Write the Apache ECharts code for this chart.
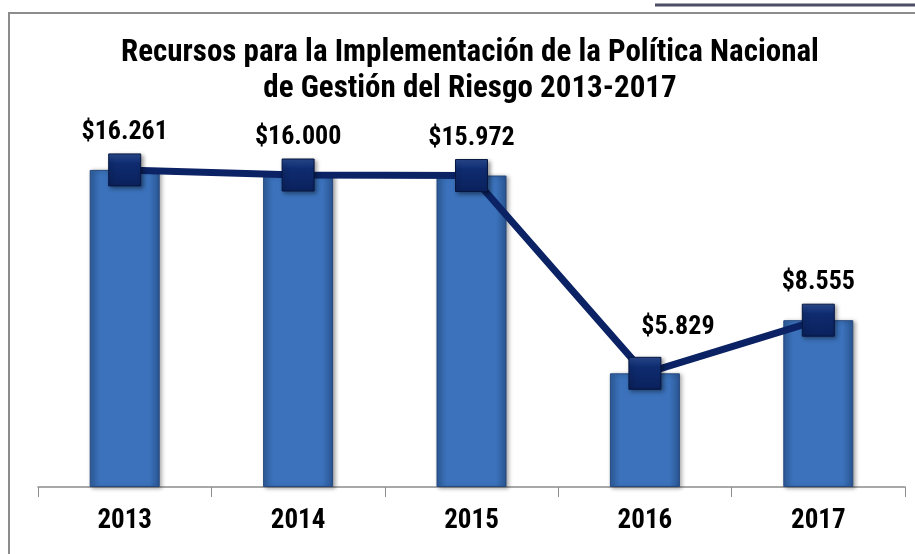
<!DOCTYPE html>
<html>
<head>
<meta charset="utf-8">
<script src="https://cdn.jsdelivr.net/npm/echarts@6/dist/echarts.min.js"></script>
<style>
  html, body { margin: 0; padding: 0; background: #fff; }
  #chart { width: 915px; height: 554px; }
</style>
</head>
<body>
<div id="chart"></div>
<script>
  // datos (miles de millones)
  var years = ['2013', '2014', '2015', '2016', '2017'];
  var recursos = [16261, 16000, 15972, 5829, 8555];
  var titulo = 'Recursos para la Implementación de la Política Nacional\nde Gestión del Riesgo 2013-2017';

  var fuente = '"Liberation Sans Narrow", "Roboto Condensed", Roboto, Arial, sans-serif';

  function formato(v) {
    // separador de miles con punto
    return '$' + String(v).replace(/\B(?=(\d{3})+(?!\d))/g, '.');
  }

  // la etiqueta de 2016 va corrida a la derecha para no tapar la línea
  var puntos = recursos.map(function (v, i) {
    if (i === 3) return { value: v, label: { offset: [33, -8] } };
    return v;
  });

  var chart = echarts.init(document.getElementById('chart'));
  var option = {
    backgroundColor: '#fff',
    animation: false,
    title: {
      text: titulo,
      left: 465,
      top: 30,
      textAlign: 'center',
      textStyle: {
        fontFamily: fuente,
        fontSize: 31,
        fontWeight: 'bold',
        color: '#000',
        lineHeight: 36
      }
    },
    graphic: [
      {
        type: 'rect',
        shape: { x: 9, y: 13, width: 930, height: 560 },
        style: { fill: 'none', stroke: '#8c8c8c', lineWidth: 2 },
        silent: true
      },
      {
        type: 'line',
        shape: { x1: 655, y1: 5, x2: 915, y2: 5 },
        style: { stroke: '#4d4d66', lineWidth: 3 },
        silent: true
      }
    ],
    grid: { left: 38, right: 10, top: 97, bottom: 67 },
    xAxis: {
      type: 'category',
      data: years,
      axisLine: { lineStyle: { color: '#8c8c8c', width: 1.5 } },
      axisTick: { show: true, length: 10, lineStyle: { color: '#8c8c8c' } },
      axisLabel: {
        margin: 21,
        fontFamily: fuente,
        fontSize: 27,
        fontWeight: 'bold',
        color: '#000'
      }
    },
    yAxis: {
      type: 'value',
      min: 0,
      max: 20000,
      show: false,
      splitLine: { show: false }
    },
    series: [
      {
        type: 'bar',
        data: recursos,
        barWidth: 70,
        itemStyle: {
          color: new echarts.graphic.LinearGradient(0, 0, 1, 0, [
            { offset: 0, color: '#2f5e9e' },
            { offset: 0.15, color: '#3b72bb' },
            { offset: 0.85, color: '#3b72bb' },
            { offset: 1, color: '#2a5592' }
          ]),
          borderColor: '#25497f',
          borderWidth: 1,
          shadowColor: 'rgba(0,0,0,0.35)',
          shadowBlur: 4,
          shadowOffsetX: 2,
          shadowOffsetY: 1
        },
        z: 2
      },
      {
        type: 'line',
        data: puntos,
        symbol: 'rect',
        symbolSize: 32,
        lineStyle: { color: '#0b2364', width: 7 },
        itemStyle: {
          color: new echarts.graphic.LinearGradient(0, 0, 0, 1, [
            { offset: 0, color: '#2b4c94' },
            { offset: 0.3, color: '#0f2c70' },
            { offset: 1, color: '#0a215c' }
          ]),
          borderColor: '#06163f',
          borderWidth: 1,
          shadowColor: 'rgba(0,0,0,0.4)',
          shadowBlur: 4,
          shadowOffsetX: 2,
          shadowOffsetY: 2
        },
        label: {
          show: true,
          position: 'top',
          distance: 8,
          formatter: function (p) { return formato(p.value); },
          fontFamily: fuente,
          fontSize: 26,
          fontWeight: 'bold',
          color: '#000'
        },
        z: 3
      }
    ]
  };
  chart.setOption(option);
</script>
</body>
</html>
